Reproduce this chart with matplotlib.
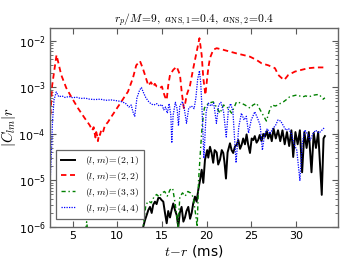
import numpy as np
import matplotlib
matplotlib.use("Agg")
import matplotlib.pyplot as plt
from matplotlib.font_manager import FontProperties

# (l,m)=(2,1)
t21 = [12.6, 12.9, 13.1, 13.29, 13.47, 13.66, 13.85, 14.02, 14.22, 14.4, 14.59, 14.78, 14.95, 15.15, 15.34,
       15.53, 15.7, 15.9, 16.1, 16.27, 16.46, 16.65, 16.83, 17.0, 17.2, 17.4, 17.58, 17.75, 17.95, 18.15,
       18.33, 18.5, 18.7, 18.88, 19.07, 19.26, 19.45, 19.63, 19.82, 20.07, 20.19, 20.38, 20.56, 20.74, 20.9,
       21.13, 21.3, 21.5, 21.7, 21.87, 22.0, 22.17, 22.35, 22.62, 22.8, 22.98, 23.18, 23.37, 23.55, 23.75,
       23.92, 24.1, 24.3, 24.48, 24.65, 24.86, 25.05, 25.23, 25.4, 25.6, 25.78, 25.95, 26.15, 26.35, 26.53,
       26.75, 26.9, 27.1, 27.3, 27.5, 27.75, 28.0, 28.25, 28.5, 28.75, 29.0, 29.25, 29.5, 29.7, 29.95,
       30.2, 30.45, 30.7, 30.95, 31.2, 31.45, 31.75, 32.0, 32.25, 32.5, 32.9, 33.1, 33.25]
c21 = [5e-7, 1.0e-6, 1.4e-6, 1.8e-6, 2.3e-6, 2.7e-6, 2.0e-6, 3.0e-6, 3.5e-6, 3.1e-6, 4.2e-6, 4.2e-6, 3.8e-6, 3.5e-6, 2.0e-6,
       1.2e-6, 2.2e-6, 1.6e-6, 2.4e-6, 3.2e-6, 2.3e-6, 1.8e-6, 1.0e-6, 2.0e-6, 2.7e-6, 1.3e-6, 1.6e-6, 2.2e-6, 2.7e-6, 1.5e-6,
       2.0e-6, 3.2e-6, 4.5e-6, 3.5e-6, 6.3e-6, 1.0e-5, 1.7e-5, 8.9e-6, 2.8e-5, 4.5e-5, 3.1e-5, 5.3e-5, 3.9e-5, 2.4e-5, 4.5e-5,
       4.0e-5, 2.2e-5, 2.8e-5, 4.5e-5, 3.9e-5, 2.5e-5, 1.1e-5, 4.0e-5, 6.3e-5, 4.5e-5, 3.9e-5, 5.4e-5, 5.8e-5, 7.4e-5, 4.8e-5,
       5.8e-5, 8.0e-5, 6.0e-5, 9.8e-5, 6.0e-5, 3.9e-5, 8.0e-5, 7.4e-5, 9.0e-5, 6.5e-5, 7.4e-5, 9.5e-5, 7.0e-5, 1.0e-4, 8.7e-5,
       1.15e-4, 8.0e-5, 1.05e-4, 7.0e-5, 1.3e-4, 8.0e-5, 1.2e-4, 7.0e-5, 1.2e-4, 6.0e-5, 1.1e-4, 5.5e-5, 1.2e-4, 3.2e-5, 1.1e-4,
       6.0e-5, 1.2e-4, 1.5e-5, 1.1e-4, 5.0e-5, 1.1e-4, 1.5e-5, 1.05e-4, 5.0e-5, 1.1e-4, 4.9e-6, 8.0e-5, 9.0e-5]

# (l,m)=(2,2)
t22 = [2.51, 2.70, 3.19, 3.72, 4.28, 4.84, 5.59, 6.34, 6.90, 7.20, 7.35, 7.46, 7.55, 7.64, 7.75, 7.83, 7.95, 8.06,
       8.20, 8.40, 8.60, 8.95, 9.30, 9.70, 10.05, 10.44, 10.80, 11.19, 11.75, 12.12, 12.54, 12.85, 13.10, 13.47,
       13.77, 14.03, 14.20, 14.41, 14.78, 15.00, 15.15, 15.34, 15.53, 15.70, 15.90, 16.27, 16.65, 17.02, 17.21,
       17.45, 17.60, 17.77, 18.14, 18.51, 18.89, 19.20, 19.45, 19.63, 19.87, 20.05, 20.19, 20.38, 20.75, 21.13,
       21.83, 22.62, 23.37, 24.10, 24.86, 25.60, 26.17, 26.91, 27.66, 28.03, 28.40, 28.70, 29.15, 29.90, 30.65,
       31.39, 32.33, 33.26]
c22 = [2.6e-4, 1.1e-3, 5.0e-3, 1.86e-3, 9.8e-4, 6.3e-4, 3.6e-4, 2.2e-4, 1.55e-4, 1.2e-4, 1.4e-4, 1.05e-4, 8.4e-5, 1.1e-4, 9.0e-5, 7.0e-5, 1.0e-4, 9.5e-5,
       1.22e-4, 1.1e-4, 1.5e-4, 1.8e-4, 2.3e-4, 3.0e-4, 3.8e-4, 4.9e-4, 6.3e-4, 8.1e-4, 1.6e-3, 3.0e-3, 3.7e-3, 2.6e-3, 1.86e-3, 1.1e-3,
       1.3e-3, 1.05e-3, 1.2e-3, 1.05e-3, 9.8e-4, 1.05e-3, 8.1e-4, 6.3e-4, 5.4e-4, 1.1e-3, 1.86e-3, 2.4e-3, 2.8e-3, 1.86e-3, 8.1e-4,
       3.6e-4, 4.5e-4, 6.9e-4, 1.1e-3, 2.6e-3, 5.9e-3, 1.15e-2, 5.0e-3, 1.6e-3, 6.9e-4, 1.5e-3, 2.6e-3, 4.3e-3, 6.5e-3, 7.0e-3,
       6.5e-3, 5.9e-3, 5.4e-3, 5.0e-3, 4.6e-3, 3.9e-3, 3.3e-3, 3.0e-3, 2.6e-3, 1.86e-3, 1.6e-3, 1.45e-3, 1.86e-3, 2.2e-3, 2.4e-3,
       2.6e-3, 2.7e-3, 2.7e-3]

# (l,m)=(3,3)
t33 = [6.3, 6.57, 6.8, 12.7, 12.95, 13.2, 13.5, 13.8, 14.1, 14.4, 14.7, 15.0, 15.3, 15.6, 15.9, 16.2, 16.5, 16.8,
       17.0, 17.3, 17.6, 17.9, 18.2, 18.5, 18.75, 18.95, 19.1, 19.3, 19.5, 19.75, 20.2, 20.75, 21.1, 21.5, 21.9,
       22.4, 22.8, 23.35, 23.9, 24.3, 24.86, 25.2, 25.6, 26.0, 26.3, 26.7, 27.0, 27.3, 27.7, 28.0, 28.3, 28.6,
       29.0, 29.3, 29.7, 30.1, 30.5, 30.8, 31.1, 31.4, 31.8, 32.1, 32.6, 33.06, 33.25]
c33 = [5e-7, 1.3e-6, 5e-7, 5e-7, 1.2e-6, 3.0e-6, 3.6e-6, 3.3e-6, 4.4e-6, 5.0e-6, 4.4e-6, 5.4e-6, 5.8e-6, 4.6e-6, 6.3e-6, 6.8e-6, 3.0e-6, 1.0e-6,
       4.4e-6, 5.4e-6, 4.6e-6, 5.8e-6, 5.4e-6, 4.4e-6, 2.0e-6, 1.0e-6, 1.0e-5, 4.0e-5, 1.5e-4, 3.6e-4, 4.6e-4, 4.9e-4, 3.8e-4, 2.8e-4, 4.2e-4,
       3.6e-4, 2.8e-4, 4.9e-4, 4.6e-4, 4.2e-4, 3.6e-4, 4.2e-4, 4.6e-4, 3.3e-4, 2.6e-4, 1.9e-4, 3.0e-4, 4.2e-4, 4.0e-4, 4.2e-4, 4.6e-4, 4.9e-4,
       5.6e-4, 6.3e-4, 6.6e-4, 6.9e-4, 6.5e-4, 6.3e-4, 6.6e-4, 6.3e-4, 6.6e-4, 6.9e-4, 7.1e-4, 5.6e-4, 6.0e-4]

# (l,m)=(4,4)
t44 = [2.51, 2.62, 2.75, 2.91, 3.16, 3.45, 3.8, 4.14, 4.6, 5.0, 5.4, 5.9, 6.4, 6.9, 7.5, 8.1, 8.7, 9.3, 9.9,
       10.4, 10.9, 11.3, 11.55, 11.75, 11.95, 12.2, 12.5, 12.7, 12.9, 13.2, 13.5, 13.8, 14.1, 14.4, 14.7, 15.0,
       15.2, 15.4, 15.6, 15.8, 16.0, 16.1, 16.25, 16.5, 16.7, 16.85, 17.0, 17.3, 17.5, 17.75, 18.0, 18.3, 18.6,
       18.8, 19.0, 19.2, 19.35, 19.5, 19.7, 19.95, 20.2, 20.5, 20.8, 21.1, 21.35, 21.6, 21.9, 22.2, 22.45, 22.7,
       22.95, 23.3, 23.6, 23.9, 24.2, 24.45, 24.7, 25.0, 25.4, 25.7, 26.0, 26.25, 26.5, 26.8, 27.1, 27.4, 27.7,
       28.0, 28.3, 28.6, 28.9, 29.2, 29.5, 29.8, 30.1, 30.45, 30.7, 31.0, 31.3, 31.6, 31.9, 32.2, 32.6, 32.9, 33.25]
c44 = [1.3e-5, 4.0e-5, 2.0e-4, 5.4e-4, 8.0e-4, 6.3e-4, 6.6e-4, 6.1e-4, 6.4e-4, 6.0e-4, 6.2e-4, 5.8e-4, 5.9e-4, 5.6e-4, 5.5e-4, 5.6e-4, 5.3e-4, 5.4e-4, 5.2e-4,
       5.0e-4, 4.6e-4, 3.8e-4, 4.2e-4, 3.0e-4, 2.4e-4, 6.0e-4, 8.8e-4, 1.0e-3, 8.0e-4, 6.0e-4, 5.0e-4, 4.4e-4, 4.2e-4, 4.5e-4, 4.0e-4, 4.3e-4,
       3.3e-4, 3.8e-4, 2.8e-4, 4.5e-4, 2.5e-4, 6.4e-5, 2.5e-4, 4.8e-4, 3.5e-4, 1.5e-4, 4.0e-4, 5.0e-4, 3.5e-4, 1.7e-4, 3.6e-4, 4.0e-4, 3.5e-4,
       6.0e-4, 1.5e-3, 2.3e-3, 1.2e-3, 3.0e-4, 3.0e-5, 3.0e-4, 4.6e-4, 4.0e-4, 4.6e-4, 1.7e-4, 4.2e-4, 4.8e-4, 3.0e-4, 8.6e-5, 3.5e-4, 4.5e-4,
       3.0e-4, 2.4e-5, 1.4e-4, 2.8e-4, 2.0e-4, 2.4e-4, 1.05e-4, 2.0e-4, 3.0e-4, 2.2e-4, 1.55e-4, 4.5e-5, 1.0e-4, 1.3e-4, 1.0e-4, 1.3e-4, 1.5e-4,
       2.0e-4, 1.9e-4, 1.5e-4, 1.2e-4, 1.3e-4, 1.0e-4, 6.0e-5, 4.5e-5, 1.0e-5, 6.0e-5, 1.22e-4, 1.0e-4, 7.4e-5, 1.0e-4, 1.2e-4, 1.05e-4, 1.2e-4, 1.4e-4]

labels = [r"$(l,m)\!=\!(2,1)$", r"$(l,m)\!=\!(2,2)$", r"$(l,m)\!=\!(3,3)$", r"$(l,m)\!=\!(4,4)$"]

fig = plt.figure(figsize=(3.49, 2.67), dpi=100)
ax = fig.add_axes([0.143, 0.150, 0.825, 0.745])

ax.semilogy(t21, c21, color="black", lw=1.4, ls="-", label=labels[0])
ax.semilogy(t22, c22, color="red", lw=1.3, ls=(0, (3, 2)), label=labels[1])
ax.semilogy(t33, c33, color="green", lw=1.0, ls=(0, (3, 2, 1, 2)), label=labels[2])
ax.semilogy(t44, c44, color="blue", lw=0.9, ls=(0, (1, 1)), label=labels[3])

ax.set_xlim(2.45, 34.7)
ax.set_ylim(1e-6, 1.9e-2)
ax.set_xticks([5, 10, 15, 20, 25, 30])
ax.tick_params(which="both", direction="in", top=True, right=True, labelsize=8, colors="0.35", labelcolor="black")
ax.tick_params(which="major", length=4, pad=3)
ax.tick_params(which="minor", length=2)
for s in ax.spines.values():
    s.set_color("0.4")
    s.set_linewidth(1.0)

ax.set_title(r"$r_p/M\!=\!9,\ a_{\rm NS,1}\!=\!0.4,\ a_{\rm NS,2}\!=\!0.4$",
             fontsize=8.3, math_fontfamily="cm", pad=4)
ax.set_xlabel(r"$t\!-\!r$ (ms)", fontsize=10, math_fontfamily="cm", labelpad=1)
ax.set_ylabel(r"$|C_{lm}|r$", fontsize=10.5, math_fontfamily="cm")
ax.yaxis.set_label_coords(-0.112, 0.5)

leg = ax.legend(loc="lower left", bbox_to_anchor=(0.005, 0.015),
                prop=FontProperties(size=7.0, math_fontfamily="cm"),
                handlelength=1.5, handletextpad=1.0, labelspacing=0.3,
                borderpad=0.45, fancybox=False, framealpha=1)
leg.get_frame().set_edgecolor("0.4")
leg.get_frame().set_linewidth(0.9)

fig.savefig("out.png", dpi=100)
